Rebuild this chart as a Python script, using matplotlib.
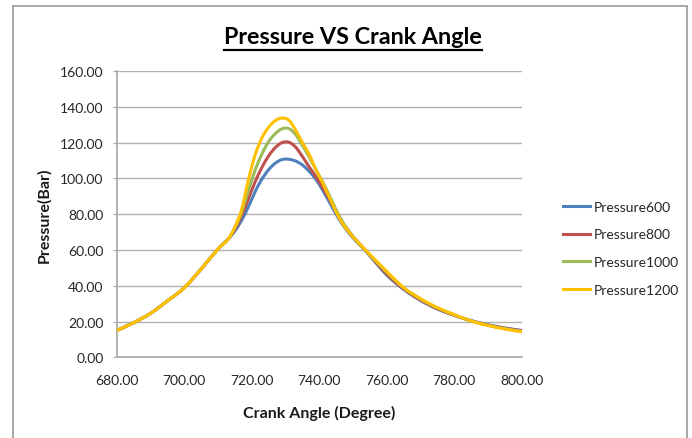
import matplotlib
matplotlib.use("Agg")
import matplotlib.pyplot as plt
from matplotlib.lines import Line2D
from matplotlib.patches import Rectangle, PathPatch
from matplotlib.path import Path

plt.rcParams['font.family'] = ['Lato', 'DejaVu Sans']

# ---------------- data ----------------
crank_angle = [680, 685, 690, 695, 700, 705, 710, 713, 715, 717, 719, 721, 723,
               725, 727, 729, 731, 733, 735, 737, 739, 741, 743, 745, 747, 749,
               751, 753, 755, 760, 765, 770, 775, 780, 785, 790, 795, 800]

common_rise = [15.0, 19.3, 24.5, 31.5, 38.8, 49.3, 60.5, 66.0]

pressure600 = common_rise + [70.5, 76.5, 84.0, 92.5, 99.5, 104.8, 108.5, 110.5,
                             110.7, 109.7, 107.5, 104.0, 99.5, 93.5, 86.8, 80.0,
                             74.0, 69.0, 64.8, 61.0, 56.8, 46.0, 38.0, 31.8, 27.0,
                             23.5, 20.5, 18.2, 16.4, 15.0]
pressure800 = common_rise + [71.5, 79.0, 88.5, 98.0, 106.0, 112.5, 117.2, 120.0,
                             120.2, 117.5, 112.3, 106.5, 101.0, 95.0, 88.5, 81.5,
                             75.0, 69.8, 65.3, 61.2, 57.0, 46.5, 38.3, 32.0, 27.2,
                             23.5, 20.4, 18.1, 16.2, 14.8]
pressure1000 = common_rise + [72.3, 81.0, 93.0, 104.5, 113.5, 120.5, 125.0, 127.7,
                              127.8, 124.5, 118.5, 112.0, 105.0, 98.0, 90.5, 82.5,
                              75.5, 70.0, 65.3, 61.2, 57.2, 47.5, 38.8, 32.5, 27.5,
                              23.7, 20.3, 17.9, 16.0, 14.5]
pressure1200 = common_rise + [72.8, 82.5, 99.0, 113.0, 122.5, 128.5, 132.3, 133.7,
                              132.5, 127.0, 120.0, 113.5, 105.0, 97.5, 89.5, 81.2,
                              74.5, 69.5, 65.3, 61.3, 57.5, 48.0, 39.0, 32.8, 27.8,
                              23.9, 20.3, 17.8, 15.8, 14.3]

series_labels = ["Pressure600", "Pressure800", "Pressure1000", "Pressure1200"]
x_ticks = [680, 700, 720, 740, 760, 780, 800]
y_ticks = [0, 20, 40, 60, 80, 100, 120, 140, 160]

colors = ["#4F81BD", "#C0504D", "#9BBB59", "#FFC000"]


def smooth_path(xs, ys):
    """Excel-style smoothed line: cubic Bezier through the data points."""
    pts = list(zip(xs, ys))
    n = len(pts)
    verts = [pts[0]]
    codes = [Path.MOVETO]
    for i in range(n - 1):
        p0 = pts[i - 1] if i > 0 else pts[i]
        p1 = pts[i]
        p2 = pts[i + 1]
        p3 = pts[i + 2] if i + 2 < n else pts[i + 1]
        c1 = (p1[0] + (p2[0] - p0[0]) / 6, p1[1] + (p2[1] - p0[1]) / 6)
        c2 = (p2[0] - (p3[0] - p1[0]) / 6, p2[1] - (p3[1] - p1[1]) / 6)
        verts += [c1, c2, p2]
        codes += [Path.CURVE4] * 3
    return Path(verts, codes)


# ---------------- figure ----------------
W, H = 692, 439
fig = plt.figure(figsize=(W / 100, H / 100), dpi=100)

# outer chart border
fig.patches.append(Rectangle((13 / W, -0.05), (687 - 13) / W, 1 - 7 / H + 0.05,
                             transform=fig.transFigure, fill=False,
                             edgecolor="#A0A0A0", linewidth=1.3))

left, right, top, bottom = 116.7, 521.7, 72.0, 358.3
ax = fig.add_axes([left / W, 1 - bottom / H, (right - left) / W, (bottom - top) / H])

handles = []
for ys, c, lab in zip([pressure600, pressure800, pressure1000, pressure1200],
                      colors, series_labels):
    ax.add_patch(PathPatch(smooth_path(crank_angle, ys), fill=False, edgecolor=c,
                           linewidth=2.2, joinstyle="round", capstyle="round",
                           zorder=3))
    handles.append(Line2D([], [], color=c, linewidth=2.2, label=lab))

ax.set_xlim(680, 800)
ax.set_ylim(0, 160)
ax.set_xticks(x_ticks)
ax.set_yticks(y_ticks)
ax.set_xticklabels([f"{v:.2f}" for v in x_ticks])
ax.set_yticklabels([f"{v:.2f}" for v in y_ticks])

ax.grid(axis="y", color="#B0B0B0", linewidth=1.0)
ax.set_axisbelow(True)
for s in ["top", "right"]:
    ax.spines[s].set_visible(False)
for s in ["left", "bottom"]:
    ax.spines[s].set_color("#A6A6A6")
    ax.spines[s].set_linewidth(1.2)

ax.tick_params(axis="x", length=0, pad=12, labelsize=10, labelcolor="#262626")
ax.tick_params(axis="y", length=3, color="#A6A6A6", pad=6.5, labelsize=10,
               labelcolor="#262626")

ax.set_xlabel("Crank Angle (Degree)", fontsize=11.5, fontweight="bold",
              color="#1a1a1a", labelpad=14)
fig.text(44 / W, 1 - 215 / H, "Pressure(Bar)", rotation=90, fontsize=11.5,
         fontweight="bold", ha="center", va="center", color="#1a1a1a")

# title with underline
title = fig.text(353 / W, 1 - 38 / H, "Pressure VS Crank Angle", fontsize=16.8,
                 fontweight="bold", ha="center", va="center", color="#000000")
fig.canvas.draw()
bb = title.get_window_extent(renderer=fig.canvas.get_renderer())
uy = 1 - 51 / H
fig.add_artist(Line2D([bb.x0 / W, bb.x1 / W], [uy, uy], transform=fig.transFigure,
                      color="black", linewidth=1.6))

leg = fig.legend(handles=handles, loc="center left",
                 bbox_to_anchor=(562.7 / W, 1 - 249.2 / H),
                 frameon=False, fontsize=10, handlelength=2.0, handletextpad=0.2,
                 labelspacing=1.12, borderpad=0, borderaxespad=0)
for t in leg.get_texts():
    t.set_color("#262626")

fig.savefig("out.png", dpi=100)
